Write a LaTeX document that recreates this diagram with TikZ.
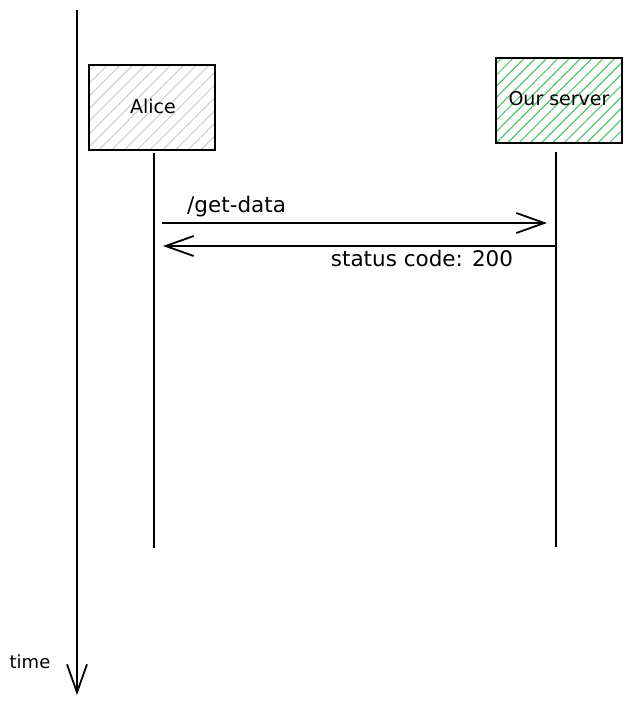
\documentclass[tikz,border=0pt]{standalone}
\usepackage{fontspec}
\setmainfont{DejaVu Sans}
\usetikzlibrary{arrows.meta,patterns.meta}
\definecolor{hatchgray}{HTML}{C4C9CE}
\definecolor{hatchgreen}{HTML}{40C057}
\tikzset{
  actor/.style={draw=black, line width=1.8pt, minimum width=126pt, minimum height=85pt, inner sep=0pt},
  lifeline/.style={line width=1.8pt},
  msg/.style={line width=1.8pt, -{Straight Barb[length=28pt,width=20pt,line width=1.8pt]}},
  lbl/.style={font=\fontsize{21.5}{24}\selectfont, inner sep=0pt},
}
\begin{document}
\begin{tikzpicture}[x=1pt,y=-1pt]
\useasboundingbox (0,0) rectangle (632,707);
% time axis
\coordinate (t0) at (77,10);
\coordinate (t1) at (77,695);
\draw[msg] (t0) -- (t1);
\node[lbl, font=\fontsize{18}{20}\selectfont] (time) at (30,662) {time};
% actors
\node[actor, pattern={Lines[angle=45,distance=9pt,line width=0.9pt]}, pattern color=hatchgray] (alice) at (152,107.5) {};
\node[lbl, font=\fontsize{19}{21}\selectfont] (alicet) at (153,106) {Alice};
\node[actor, pattern={Lines[angle=45,distance=8pt,line width=1pt]}, pattern color=hatchgreen] (server) at (559,100.5) {};
\node[lbl, font=\fontsize{19}{21}\selectfont] (servert) at (559,99) {Our server};
% lifelines
\coordinate (a0) at (154,153);
\coordinate (a1) at (154,548);
\coordinate (s0) at (556,152);
\coordinate (s1) at (556,547);
\draw[lifeline] (a0) -- (a1);
\draw[lifeline] (s0) -- (s1);
% messages
\coordinate (m1s) at (162,223);
\coordinate (m1e) at (547,223);
\coordinate (m2s) at (556,246);
\coordinate (m2e) at (163,246);
\draw[msg] (m1s) -- (m1e);
\draw[msg] (m2s) -- (m2e);
\node[lbl, anchor=west] (l1) at (187,207) {/get-data};
\node[lbl] (l2) at (422,258) {status code: 200};
\end{tikzpicture}
\end{document}
